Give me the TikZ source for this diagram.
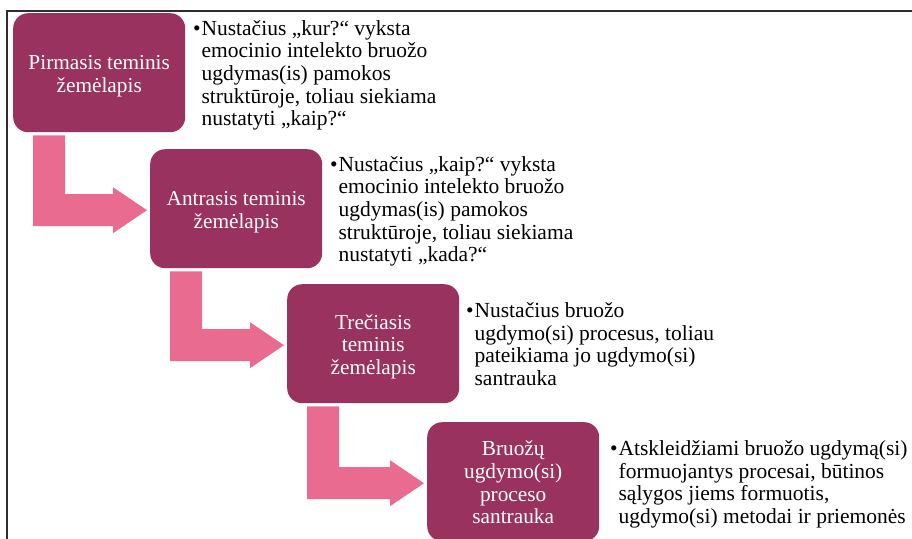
\documentclass[tikz,border=0pt]{standalone}
\usepackage{fontspec}
\setmainfont{Liberation Serif}
\usetikzlibrary{calc}

\definecolor{plum}{RGB}{153,50,94}
\definecolor{rosepink}{RGB}{233,107,143}
\definecolor{framegray}{RGB}{45,45,45}

\tikzset{
  stepbox/.style={draw=none, fill=plum, rounded corners=15pt,
    minimum width=172pt, minimum height=119pt, anchor=north west, inner sep=0pt},
  boxlabel/.style={anchor=base, inner sep=0pt, text=white,
    font=\fontsize{21.3}{22.7}\selectfont},
  note/.style={anchor=base west, inner sep=0pt, text=black,
    font=\fontsize{21.5}{22.7}\selectfont},
  bentfill/.style={fill=rosepink, draw=none},
  frameline/.style={draw=framegray, line width=1.5pt},
}

% L-shaped arrow: down from the lower left of box #1, then right into box #2
\newcommand\bentarrow[2]{%
  \fill[bentfill] let \p1=(#1.south west), \p2=(#2.west) in
    (\x1+20pt,\y1-3pt) -- (\x1+52pt,\y1-3pt) -- (\x1+52pt,\y2+14.5pt)
    -- (\x2-37pt,\y2+14.5pt) -- (\x2-37pt,\y2+21.5pt) -- (\x2-3pt,\y2-1.5pt)
    -- (\x2-37pt,\y2-24.5pt) -- (\x2-37pt,\y2-17.5pt) -- (\x1+20pt,\y2-17.5pt)
    -- cycle;}

% hanging bullet in front of the first line of a note
\newcommand\bul{\leavevmode\llap{\textbullet\hspace{1pt}}}

\begin{document}
\begin{tikzpicture}[x=1pt,y=-1pt]
\useasboundingbox (0,0) rectangle (912,538);

% outer frame
\draw[frameline] (7,560) -- (7,11) -- (930,11);

% steps
\node[stepbox] (b1) at (13,13) {};
\node[stepbox] (b2) at (150,149) {};
\node[stepbox] (b3) at (287,284) {};
\node[stepbox] (b4) at (427,422) {};

\node[boxlabel] (l1) at ($(b1.center)+(0,-3.35)$)
  {\parbox[t]{170pt}{\centering Pirmasis teminis\\žemėlapis}};
\node[boxlabel] (l2) at ($(b2.center)+(0,-3.35)$)
  {\parbox[t]{170pt}{\centering Antrasis teminis\\žemėlapis}};
\node[boxlabel] (l3) at ($(b3.center)+(0,-14.7)$)
  {\parbox[t]{170pt}{\centering Trečiasis\\teminis\\žemėlapis}};
\node[boxlabel] (l4) at ($(b4.center)+(0,-26.05)$)
  {\parbox[t]{170pt}{\centering Bruožų\\ugdymo(si)\\proceso\\santrauka}};

% connectors
\bentarrow{b1}{b2}
\bentarrow{b2}{b3}
\bentarrow{b3}{b4}

% notes
\node[note] (n1) at ($(b1.north east)+(16,22.1)$)
  {\parbox[t]{400pt}{\raggedright\bul Nustačius „kur?“ vyksta\\emocinio intelekto bruožo\\ugdymas(is) pamokos\\struktūroje, toliau siekiama\\nustatyti „kaip?“}};
\node[note] (n2) at ($(b2.north east)+(16,22.1)$)
  {\parbox[t]{400pt}{\raggedright\bul Nustačius „kaip?“ vyksta\\emocinio intelekto bruožo\\ugdymas(is) pamokos\\struktūroje, toliau siekiama\\nustatyti „kada?“}};
\node[note] (n3) at ($(b3.north east)+(15,33.45)$)
  {\parbox[t]{400pt}{\raggedright\bul Nustačius bruožo\\ugdymo(si) procesus, toliau\\pateikiama jo ugdymo(si)\\santrauka}};
\node[note] (n4) at ($(b4.north east)+(19,33.45)$)
  {\parbox[t]{400pt}{\raggedright\bul Atskleidžiami bruožo ugdymą(si)\\formuojantys procesai, būtinos\\sąlygos jiems formuotis,\\ugdymo(si) metodai ir priemonės}};
\end{tikzpicture}
\end{document}
